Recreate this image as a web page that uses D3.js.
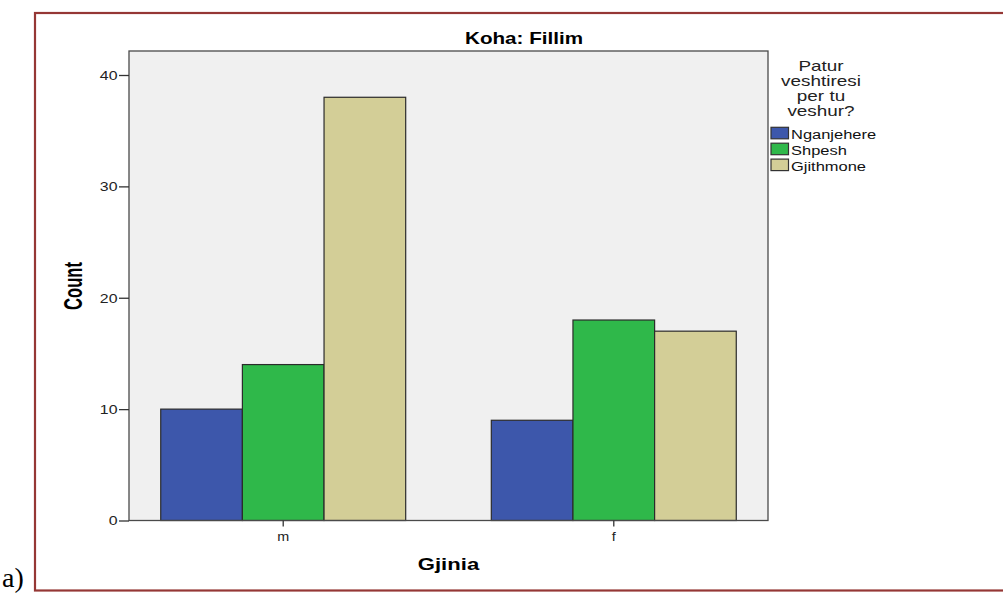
<!DOCTYPE html>
<html>
<head>
<meta charset="utf-8">
<script src="https://cdn.jsdelivr.net/npm/d3@7"></script>
<style>
  html, body { margin: 0; padding: 0; background: #fff; }
  svg { display: block; }
  text { font-family: "Liberation Sans", Arial, sans-serif; }
</style>
</head>
<body>
<svg id="chart" width="1003" height="595"></svg>
<script>
// ---- data ----
const categories = ["m", "f"];
const seriesNames = ["Nganjehere", "Shpesh", "Gjithmone"];
const nganjehere = [10, 9];
const shpesh = [14, 18];
const gjithmone = [38, 17];
const yTicks = [0, 10, 20, 30, 40];
const seriesColors = ["#3d57ab", "#2fb84a", "#d3ce97"];
const chartTitle = "Koha: Fillim";
const legendTitle = ["Patur", "veshtiresi", "per tu", "veshur?"];
const xTitle = "Gjinia";
const yTitle = "Count";

const seriesValues = [nganjehere, shpesh, gjithmone];
const rows = [];
categories.forEach((c, ci) => seriesNames.forEach((s, si) => rows.push({cat: c, series: s, value: seriesValues[si][ci], color: seriesColors[si]})));

const svg = d3.select("#chart");

// page border (document frame)
svg.append("rect").attr("x", 35).attr("y", 13).attr("width", 1000).attr("height", 577.5)
  .attr("fill", "none").attr("stroke", "#953735").attr("stroke-width", 2.2);

svg.append("text").attr("x", 2).attr("y", 587)
  .style("font-family", "'Liberation Serif', 'Times New Roman', serif")
  .style("font-size", "28px").text("a)");

const plot = {left: 129, right: 768, top: 51, bottom: 520.5};

const x = d3.scaleBand().domain(categories).range([plot.left, plot.right])
  .paddingInner(0.259).paddingOuter(0.096);
const x1 = d3.scaleBand().domain(seriesNames).range([0, x.bandwidth()]);
const y = d3.scaleLinear().domain([0, 40]).range([plot.bottom, 75]);

// plot background
svg.append("rect").attr("x", plot.left).attr("y", plot.top)
  .attr("width", plot.right - plot.left).attr("height", plot.bottom - plot.top)
  .attr("fill", "#f0f0f0");

// bars
svg.append("g").selectAll("rect").data(rows).join("rect")
  .attr("x", d => x(d.cat) + x1(d.series))
  .attr("y", d => y(d.value))
  .attr("width", x1.bandwidth())
  .attr("height", d => y(0) - y(d.value))
  .attr("fill", d => d.color)
  .attr("stroke", "#2b2b2b").attr("stroke-width", 1.2);

// frame
svg.append("rect").attr("x", plot.left).attr("y", plot.top)
  .attr("width", plot.right - plot.left).attr("height", plot.bottom - plot.top)
  .attr("fill", "none").attr("stroke", "#4a4a4a").attr("stroke-width", 1.3);

// y axis
const yAxis = svg.append("g").attr("transform", `translate(${plot.left},0)`)
  .call(d3.axisLeft(y).tickValues(yTicks).tickSize(10).tickPadding(2).tickFormat(d3.format("d")));
yAxis.select(".domain").remove();
yAxis.selectAll(".tick line").attr("stroke", "#333").attr("stroke-width", 1.3);
yAxis.selectAll(".tick text")
  .attr("x", null).attr("dy", "0.35em")
  .attr("transform", "translate(-11.5,0) scale(1.27,1)")
  .style("font-size", "12.5px").attr("fill", "#222");

// x axis
const xAxis = svg.append("g").attr("transform", `translate(0,${plot.bottom})`)
  .call(d3.axisBottom(x).tickSize(6).tickPadding(5));
xAxis.select(".domain").remove();
xAxis.selectAll(".tick line").attr("stroke", "#333").attr("stroke-width", 1.3);
xAxis.selectAll(".tick text")
  .attr("y", null).attr("dy", null)
  .attr("transform", "translate(0,20.5) scale(1.15,1)")
  .style("font-size", "12.5px").attr("fill", "#222");

// title
svg.append("text").attr("text-anchor", "middle")
  .attr("transform", "translate(524,44) scale(1.29,1)")
  .style("font-size", "16px").style("font-weight", "bold").text(chartTitle);

// x title
svg.append("text").attr("text-anchor", "middle")
  .attr("transform", "translate(448.5,569.5) scale(1.34,1)")
  .style("font-size", "16.5px").style("font-weight", "bold").text(xTitle);

// y title
svg.append("text").attr("text-anchor", "middle")
  .attr("transform", "translate(82,286) scale(1.5,1) rotate(-90)")
  .style("font-size", "16.6px").style("font-weight", "bold").text(yTitle);

// legend
const lg = svg.append("g");
lg.selectAll("text.lt").data(legendTitle).join("text").attr("class", "lt")
  .attr("text-anchor", "middle")
  .attr("transform", (d, i) => `translate(821,${70.5 + i * 15.3}) scale(1.35,1)`)
  .style("font-size", "14px").attr("fill", "#222").text(d => d);

const items = lg.selectAll("g.item").data(seriesNames).join("g").attr("class", "item")
  .attr("transform", (d, i) => `translate(771,${127.3 + i * 15.9})`);
items.append("rect").attr("width", 17.5).attr("height", 11.5)
  .attr("fill", (d, i) => seriesColors[i]).attr("stroke", "#333").attr("stroke-width", 1.2);
items.append("text").attr("transform", "translate(20,11.8) scale(1.22,1)")
  .style("font-size", "13.5px").attr("fill", "#111").text(d => d);
</script>
</body>
</html>
